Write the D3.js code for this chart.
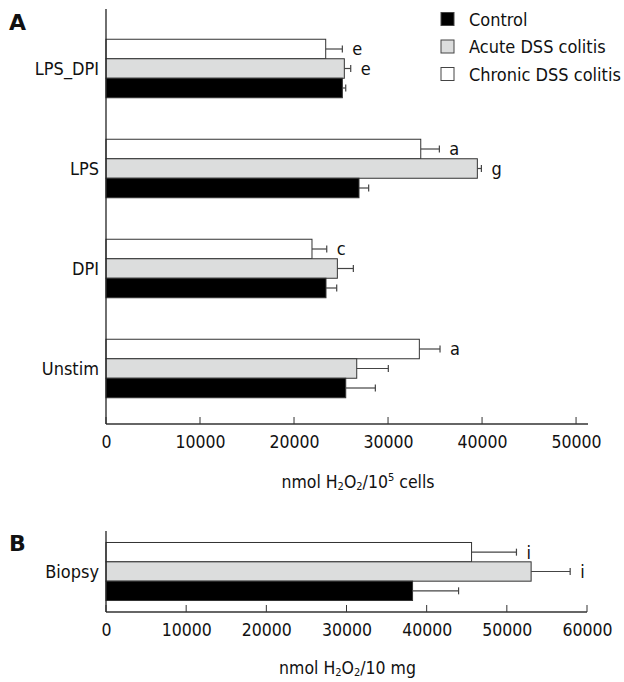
<!DOCTYPE html>
<html>
<head>
<meta charset="utf-8">
<script src="https://cdn.jsdelivr.net/npm/d3@7"></script>
<style>
body{margin:0;background:#fff;}
svg text{font-family:"DejaVu Sans Condensed","DejaVu Sans",sans-serif;font-stretch:condensed;font-size:17.5px;fill:#111;}
.panel{font-family:"DejaVu Sans","Liberation Sans",sans-serif !important;font-stretch:normal !important;font-weight:bold;font-size:22px !important;}
.axis path,.axis line{stroke:#333;}
</style>
</head>
<body>
<div id="chart"></div>
<script>
// panel A data (nmol H2O2 / 10^5 cells)
var categoriesA=["LPS_DPI","LPS","DPI","Unstim"];
var controlA=[25140,26910,23400,25500];
var controlErrA=[360,1030,1140,3150];
var acuteA=[25350,39500,24610,26670];
var acuteErrA=[680,430,1700,3360];
var chronicA=[23370,33480,21910,33330];
var chronicErrA=[1770,1980,1570,2200];
var acuteSigA=["e","g","",""];
var chronicSigA=["e","a","c","a"];
var ticksA=[0,10000,20000,30000,40000,50000];

// panel B data (nmol H2O2 / 10 mg)
var categoriesB=["Biopsy"];
var controlB=[38240];
var controlErrB=[5740];
var acuteB=[53030];
var acuteErrB=[4870];
var chronicB=[45600];
var chronicErrB=[5600];
var acuteSigB=["i"];
var chronicSigB=["i"];
var ticksB=[0,10000,20000,30000,40000,50000,60000];

// series drawn top to bottom inside a group
var seriesNames=["Chronic DSS colitis","Acute DSS colitis","Control"];
var legendOrder=["Control","Acute DSS colitis","Chronic DSS colitis"];
var fills={"Control":"#000","Acute DSS colitis":"#dcdddd","Chronic DSS colitis":"#fff"};

var W=624,H=682;
var svg=d3.select('#chart')
	.append('svg')
	.attr('width',W)
	.attr('height',H);

function buildRows(cats,ctl,ctlE,acu,acuE,acuS,chr,chrE,chrS){
	var rows=[];
	cats.forEach(function(c,i){
		rows.push({cat:c,s:"Chronic DSS colitis",v:chr[i],e:chrE[i],sig:chrS[i]});
		rows.push({cat:c,s:"Acute DSS colitis",v:acu[i],e:acuE[i],sig:acuS[i]});
		rows.push({cat:c,s:"Control",v:ctl[i],e:ctlE[i],sig:""});
	});
	return rows;
}

function drawPanel(g,rows,cats,x,y,ticks,top,bottom){
	var sub=d3.scaleBand()
		.domain(seriesNames)
		.range([0,y.bandwidth()]);

	// bars
	g.selectAll('.bar')
		.data(rows)
		.enter()
		.append('rect')
		.attr('class','bar')
		.attr('x',x(0))
		.attr('y',function(d){return y(d.cat)+sub(d.s)})
		.attr('height',sub.bandwidth())
		.attr('width',function(d){return x(d.v)-x(0)})
		.attr('fill',function(d){return fills[d.s]})
		.attr('stroke','#333')
		.attr('stroke-width',1);

	// error bars
	g.selectAll('.err')
		.data(rows)
		.enter()
		.append('line')
		.attr('x1',function(d){return x(d.v)})
		.attr('x2',function(d){return x(d.v+d.e)})
		.attr('y1',function(d){return y(d.cat)+sub(d.s)+sub.bandwidth()/2})
		.attr('y2',function(d){return y(d.cat)+sub(d.s)+sub.bandwidth()/2})
		.attr('stroke','#444')
		.attr('stroke-width',1.2);
	g.selectAll('.cap')
		.data(rows)
		.enter()
		.append('line')
		.attr('x1',function(d){return x(d.v+d.e)})
		.attr('x2',function(d){return x(d.v+d.e)})
		.attr('y1',function(d){return y(d.cat)+sub(d.s)+sub.bandwidth()/2-3.5})
		.attr('y2',function(d){return y(d.cat)+sub(d.s)+sub.bandwidth()/2+3.5})
		.attr('stroke','#444')
		.attr('stroke-width',1.2);

	// significance letters
	g.selectAll('.sig')
		.data(rows.filter(function(d){return d.sig}))
		.enter()
		.append('text')
		.attr('x',function(d){return x(d.v+d.e)+10})
		.attr('y',function(d){return y(d.cat)+sub(d.s)+sub.bandwidth()/2})
		.attr('dy','0.36em')
		.style('font-size','18px')
		.text(function(d){return d.sig});

	// category labels
	g.selectAll('.cat')
		.data(cats)
		.enter()
		.append('text')
		.attr('x',x(0)-7)
		.attr('y',function(d){return y(d)+y.bandwidth()/2})
		.attr('dy','0.38em')
		.attr('text-anchor','end')
		.style('font-size','18px')
		.text(function(d){return d});

	// axes
	var xAxis=d3.axisBottom(x)
		.tickValues(ticks)
		.tickSize(0)
		.tickPadding(0)
		.tickFormat(d3.format('d'));
	var ax=g.append('g')
		.attr('class','axis')
		.attr('transform','translate(0,'+bottom+')')
		.call(xAxis);
	ax.select('.domain').remove();
	ax.selectAll('.tick line').remove();
	ax.selectAll('.tick text')
		.attr('y',24)
		.attr('dy',0)
		.style('font-size','17.5px');
	g.selectAll('.tk')
		.data(ticks)
		.enter()
		.append('line')
		.attr('x1',function(d){return x(d)})
		.attr('x2',function(d){return x(d)})
		.attr('y1',bottom)
		.attr('y2',bottom-7)
		.attr('stroke','#333');
	g.append('line')
		.attr('x1',x(0)).attr('x2',x.range()[1])
		.attr('y1',bottom).attr('y2',bottom)
		.attr('stroke','#333').attr('stroke-width',1.3);
	g.append('line')
		.attr('x1',x(0)).attr('x2',x(0))
		.attr('y1',top).attr('y2',bottom)
		.attr('stroke','#222').attr('stroke-width',1.3);
}

/***** panel A *****/
var gA=svg.append('g');
var xA=d3.scaleLinear()
	.domain([0,51270])
	.range([106,588]);
var yA=d3.scaleBand()
	.domain(categoriesA)
	.range([18.5,418.5])
	.paddingInner(0.415)
	.paddingOuter(0.2075);
drawPanel(gA,buildRows(categoriesA,controlA,controlErrA,acuteA,acuteErrA,acuteSigA,chronicA,chronicErrA,chronicSigA),categoriesA,xA,yA,ticksA,9,424);

/***** panel B *****/
var gB=svg.append('g');
var xB=d3.scaleLinear()
	.domain([0,60000])
	.range([106,587]);
var yB=d3.scaleBand()
	.domain(categoriesB)
	.range([531,612])
	.paddingOuter(0.198);
drawPanel(gB,buildRows(categoriesB,controlB,controlErrB,acuteB,acuteErrB,acuteSigB,chronicB,chronicErrB,chronicSigB),categoriesB,xB,yB,ticksB,531,612);

// panel letters
svg.append('text').attr('class','panel').attr('x',9).attr('y',30).text('A');
svg.append('text').attr('class','panel').attr('x',9).attr('y',551).text('B');

// axis titles
function axisTitle(x,y,tail,sup){
	var t=svg.append('text')
		.attr('x',x)
		.attr('y',y)
		.attr('text-anchor','middle');
	t.append('tspan').text('nmol H');
	t.append('tspan').attr('dy',2).style('font-size','11px').text('2');
	t.append('tspan').attr('dy',-2).text('O');
	t.append('tspan').attr('dy',2).style('font-size','11px').text('2');
	t.append('tspan').attr('dy',-2).text(tail);
	if(sup){
		t.append('tspan').attr('dy',-7).style('font-size','11px').text(sup);
		t.append('tspan').attr('dy',7).text(' cells');
	}
}
axisTitle((xA(0)+xA.range()[1])/2+11,488,'/10','5');
axisTitle((xB(0)+xB.range()[1])/2+1,674,'/10 mg',null);

// legend
var leg=svg.append('g')
	.selectAll('g')
	.data(legendOrder)
	.enter()
	.append('g')
	.attr('transform',function(d,i){return 'translate(441,'+(12.5+i*27.5)+')'});
leg.append('rect')
	.attr('width',13)
	.attr('height',13)
	.attr('fill',function(d){return fills[d]})
	.attr('stroke','#444');
leg.append('text')
	.attr('x',28)
	.attr('y',13)
	.style('font-size','18px')
	.text(function(d){return d});
</script>
</body>
</html>
